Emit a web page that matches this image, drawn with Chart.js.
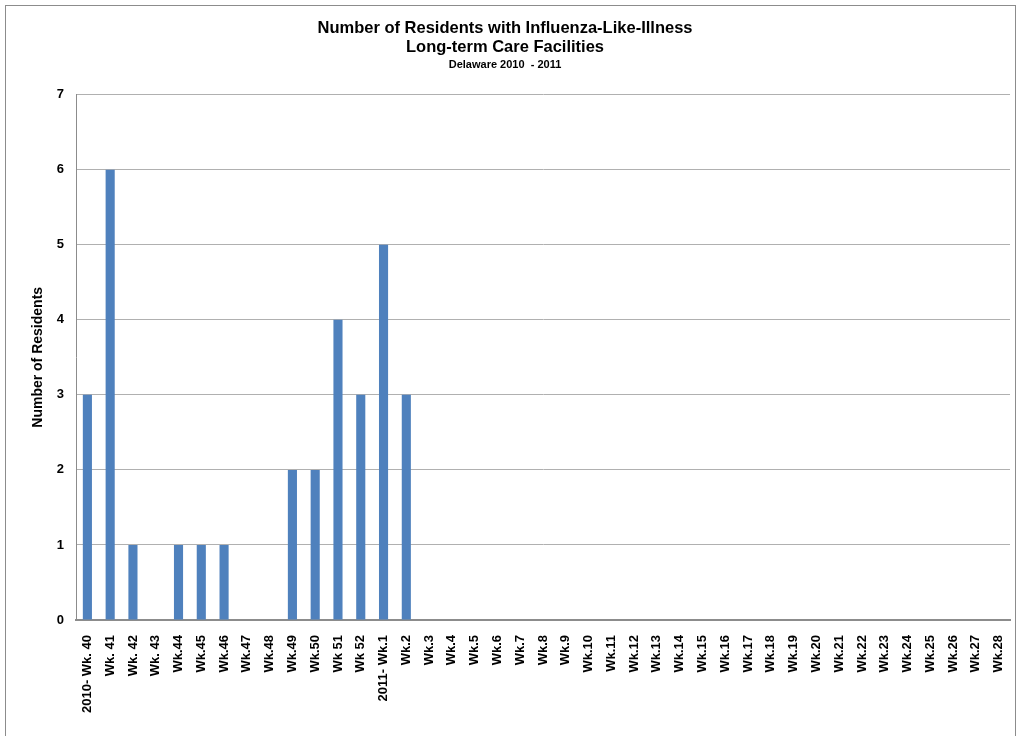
<!DOCTYPE html>
<html lang="en">
<head>
  <meta charset="UTF-8">
  <title>Number of Residents with Influenza-Like-Illness</title>
  <script src="https://cdn.jsdelivr.net/npm/chart.js"></script>
  <style>
    html, body {
      margin: 0;
      background: #ffffff;
      overflow: hidden;
    }
    .wrap {
      position: relative;
      width: 1017px;
      height: 736px;
    }
    .frame {
      position: absolute;
      left: 5px;
      top: 5px;
      width: 1009px;
      height: 760px;
      border: 1px solid #8c8c8c;
    }
    canvas {
      position: absolute;
      left: 0;
      top: 0;
    }
  </style>
</head>
<body>
  <div class="wrap">
    <div class="frame"></div>
    <canvas id="iliChart" width="1017" height="736"></canvas>
  </div>

  <script>
    const weeks = [
      '2010- Wk. 40', 'Wk. 41', 'Wk. 42', 'Wk. 43', 'Wk.44', 'Wk.45', 'Wk.46', 'Wk.47',
      'Wk.48', 'Wk.49', 'Wk.50', 'Wk 51', 'Wk 52', '2011- Wk.1', 'Wk.2', 'Wk.3',
      'Wk.4', 'Wk.5', 'Wk.6', 'Wk.7', 'Wk.8', 'Wk.9', 'Wk.10', 'Wk.11', 'Wk.12',
      'Wk.13', 'Wk.14', 'Wk.15', 'Wk.16', 'Wk.17', 'Wk.18', 'Wk.19', 'Wk.20',
      'Wk.21', 'Wk.22', 'Wk.23', 'Wk.24', 'Wk.25', 'Wk.26', 'Wk.27', 'Wk.28'
    ];
    // only weeks up to Wk.2 reported so far
    const residents = [3, 6, 1, 0, 1, 1, 1, 0, 0, 2, 2, 4, 3, 5, 3];

    const titleLines = ['Number of Residents with Influenza-Like-Illness', 'Long-term Care Facilities'];
    const subtitleText = 'Delaware 2010  - 2011';
    const yTitle = 'Number of Residents';

    const fontFamily = 'Arial, "Liberation Sans", sans-serif';

    const ctx = document.getElementById('iliChart').getContext('2d');
    new Chart(ctx, {
      type: 'bar',
      data: {
        labels: weeks,
        datasets: [{
          label: 'Residents',
          data: residents,
          backgroundColor: '#4f81bd',
          borderWidth: 0,
          categoryPercentage: 1.0,
          barPercentage: 0.4
        }]
      },
      options: {
        responsive: false,
        animation: false,
        layout: {
          padding: { left: 0, right: 7, top: 19, bottom: 0 }
        },
        plugins: {
          legend: { display: false },
          tooltip: { enabled: false },
          title: {
            display: true,
            text: titleLines,
            color: '#000',
            font: { family: fontFamily, size: 16.5, weight: 'bold', lineHeight: 1.15 },
            padding: { top: 0, bottom: 1 }
          },
          subtitle: {
            display: true,
            text: subtitleText,
            color: '#000',
            font: { family: fontFamily, size: 11, weight: 'bold', lineHeight: 1.2 },
            padding: { top: 0, bottom: 23.5 }
          }
        },
        scales: {
          x: {
            grid: { display: false },
            border: { display: true, color: '#8c8c8c', width: 2 },
            ticks: {
              color: '#000',
              font: { family: fontFamily, size: 13, weight: 'bold' },
              minRotation: 90,
              maxRotation: 90,
              autoSkip: false,
              padding: 7
            },
            afterFit: function(scale) {
              scale.height = 116;
              scale.paddingLeft = 0;
              scale.paddingRight = 0;
            }
          },
          y: {
            min: 0,
            max: 7,
            ticks: {
              stepSize: 1,
              color: '#000',
              font: { family: fontFamily, size: 13, weight: 'bold' },
              padding: 12
            },
            grid: {
              color: '#b0b0b0',
              lineWidth: 1,
              drawTicks: false
            },
            border: { display: true, color: '#8c8c8c', width: 1 },
            title: {
              display: true,
              text: yTitle,
              color: '#000',
              font: { family: fontFamily, size: 14, weight: 'bold', lineHeight: 1.2 },
              padding: { top: 30, bottom: 0 }
            },
            afterFit: function(scale) {
              scale.width = 76;
            }
          }
        }
      }
    });
  </script>
</body>
</html>
